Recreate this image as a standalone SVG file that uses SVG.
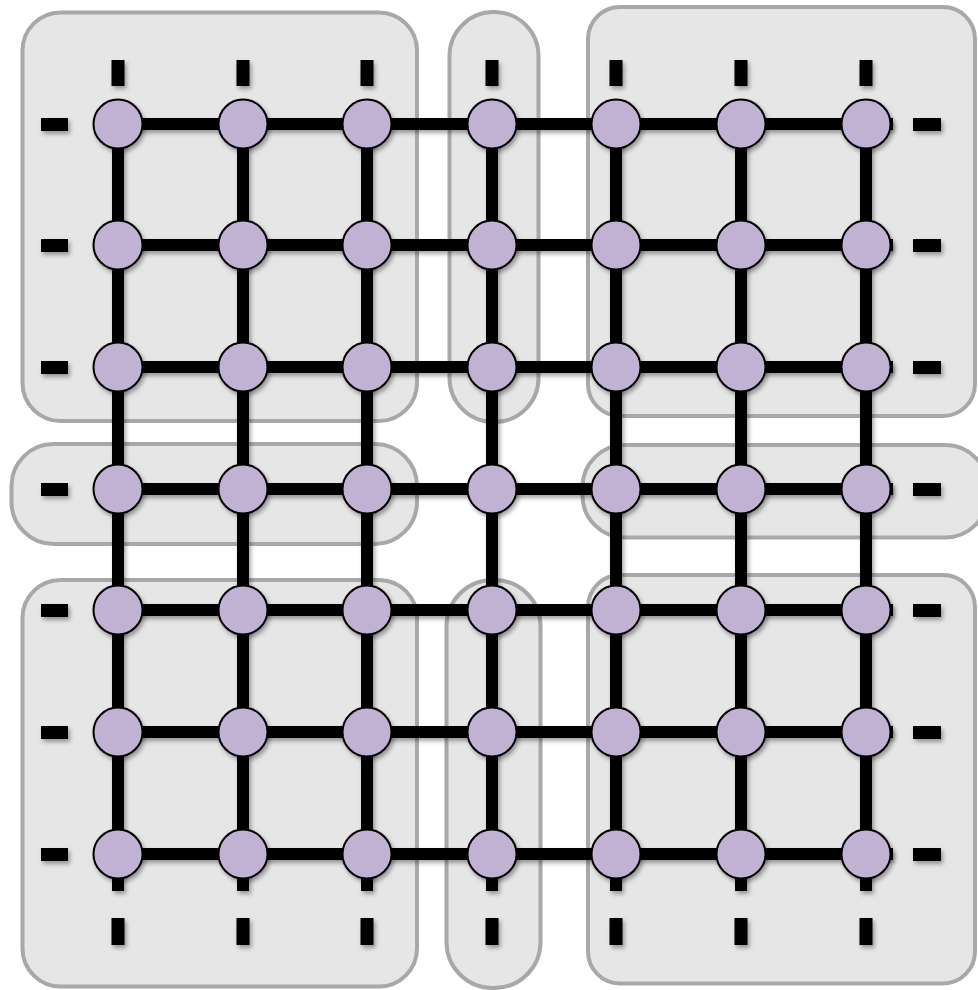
<svg xmlns="http://www.w3.org/2000/svg" width="978" height="990" viewBox="0 0 978 990">
<defs>
<filter id="sh" x="-20%" y="-20%" width="140%" height="140%">
<feDropShadow dx="2" dy="3" stdDeviation="2" flood-color="#000" flood-opacity="0.35"/>
</filter>
<style>
.box{fill:#e6e6e6;stroke:#a8a8a8;stroke-width:4}
.edge{stroke:#000;stroke-width:12;fill:none}
.stub{fill:#000}
.node{fill:#c1b2d4;stroke:#000;stroke-width:2}
</style>
</defs>
<rect width="978" height="990" fill="#fff"/>
<g id="groups">
<rect id="g-tl" class="box" x="22.5" y="12.5" width="394.5" height="408.5" rx="38"/>
<rect id="g-tm" class="box" x="449.5" y="12" width="89" height="410" rx="44"/>
<rect id="g-tr" class="box" x="588" y="7" width="387" height="409" rx="32"/>
<rect id="g-ml" class="box" x="11.5" y="444" width="405.5" height="100" rx="42"/>
<rect id="g-mr" class="box" x="582.5" y="445" width="405" height="92.5" rx="42"/>
<rect id="g-bl" class="box" x="22.5" y="580" width="394.5" height="406.5" rx="38"/>
<rect id="g-bm" class="box" x="446.5" y="580" width="94" height="408" rx="46"/>
<rect id="g-br" class="box" x="588" y="575" width="387" height="408.5" rx="32"/>
</g>
<g id="connectors" filter="url(#sh)">
<line class="edge" x1="118" y1="124" x2="893" y2="124"/>
<line class="edge" x1="118" y1="245" x2="893" y2="245"/>
<line class="edge" x1="118" y1="367" x2="893" y2="367"/>
<line class="edge" x1="118" y1="489" x2="893" y2="489"/>
<line class="edge" x1="118" y1="610" x2="893" y2="610"/>
<line class="edge" x1="118" y1="732" x2="893" y2="732"/>
<line class="edge" x1="118" y1="854" x2="893" y2="854"/>
<line class="edge" x1="118" y1="124" x2="118" y2="891"/>
<line class="edge" x1="243" y1="124" x2="243" y2="891"/>
<line class="edge" x1="367" y1="124" x2="367" y2="891"/>
<line class="edge" x1="492" y1="124" x2="492" y2="891"/>
<line class="edge" x1="616" y1="124" x2="616" y2="891"/>
<line class="edge" x1="741" y1="124" x2="741" y2="891"/>
<line class="edge" x1="866" y1="124" x2="866" y2="891"/>
</g>
<g id="stubs" filter="url(#sh)">
<rect class="stub" x="111.5" y="60" width="13" height="26"/>
<rect class="stub" x="236.5" y="60" width="13" height="26"/>
<rect class="stub" x="360.5" y="60" width="13" height="26"/>
<rect class="stub" x="485.5" y="60" width="13" height="26"/>
<rect class="stub" x="609.5" y="60" width="13" height="26"/>
<rect class="stub" x="734.5" y="60" width="13" height="26"/>
<rect class="stub" x="859.5" y="60" width="13" height="26"/>
<rect class="stub" x="111.5" y="918" width="13" height="27"/>
<rect class="stub" x="236.5" y="918" width="13" height="27"/>
<rect class="stub" x="360.5" y="918" width="13" height="27"/>
<rect class="stub" x="485.5" y="918" width="13" height="27"/>
<rect class="stub" x="609.5" y="918" width="13" height="27"/>
<rect class="stub" x="734.5" y="918" width="13" height="27"/>
<rect class="stub" x="859.5" y="918" width="13" height="27"/>
<rect class="stub" x="41" y="118" width="27" height="13"/>
<rect class="stub" x="41" y="239" width="27" height="13"/>
<rect class="stub" x="41" y="361" width="27" height="13"/>
<rect class="stub" x="41" y="483" width="27" height="13"/>
<rect class="stub" x="41" y="604" width="27" height="13"/>
<rect class="stub" x="41" y="726" width="27" height="13"/>
<rect class="stub" x="41" y="848" width="27" height="13"/>
<rect class="stub" x="913" y="118" width="28" height="13"/>
<rect class="stub" x="913" y="239" width="28" height="13"/>
<rect class="stub" x="913" y="361" width="28" height="13"/>
<rect class="stub" x="913" y="483" width="28" height="13"/>
<rect class="stub" x="913" y="604" width="28" height="13"/>
<rect class="stub" x="913" y="726" width="28" height="13"/>
<rect class="stub" x="913" y="848" width="28" height="13"/>
</g>
<g id="nodes" filter="url(#sh)">
<g id="n1-1"><circle class="node" cx="118" cy="124" r="24.5"/></g>
<g id="n1-2"><circle class="node" cx="243" cy="124" r="24.5"/></g>
<g id="n1-3"><circle class="node" cx="367" cy="124" r="24.5"/></g>
<g id="n1-4"><circle class="node" cx="492" cy="124" r="24.5"/></g>
<g id="n1-5"><circle class="node" cx="616" cy="124" r="24.5"/></g>
<g id="n1-6"><circle class="node" cx="741" cy="124" r="24.5"/></g>
<g id="n1-7"><circle class="node" cx="866" cy="124" r="24.5"/></g>
<g id="n2-1"><circle class="node" cx="118" cy="245" r="24.5"/></g>
<g id="n2-2"><circle class="node" cx="243" cy="245" r="24.5"/></g>
<g id="n2-3"><circle class="node" cx="367" cy="245" r="24.5"/></g>
<g id="n2-4"><circle class="node" cx="492" cy="245" r="24.5"/></g>
<g id="n2-5"><circle class="node" cx="616" cy="245" r="24.5"/></g>
<g id="n2-6"><circle class="node" cx="741" cy="245" r="24.5"/></g>
<g id="n2-7"><circle class="node" cx="866" cy="245" r="24.5"/></g>
<g id="n3-1"><circle class="node" cx="118" cy="367" r="24.5"/></g>
<g id="n3-2"><circle class="node" cx="243" cy="367" r="24.5"/></g>
<g id="n3-3"><circle class="node" cx="367" cy="367" r="24.5"/></g>
<g id="n3-4"><circle class="node" cx="492" cy="367" r="24.5"/></g>
<g id="n3-5"><circle class="node" cx="616" cy="367" r="24.5"/></g>
<g id="n3-6"><circle class="node" cx="741" cy="367" r="24.5"/></g>
<g id="n3-7"><circle class="node" cx="866" cy="367" r="24.5"/></g>
<g id="n4-1"><circle class="node" cx="118" cy="489" r="24.5"/></g>
<g id="n4-2"><circle class="node" cx="243" cy="489" r="24.5"/></g>
<g id="n4-3"><circle class="node" cx="367" cy="489" r="24.5"/></g>
<g id="n4-4"><circle class="node" cx="492" cy="489" r="24.5"/></g>
<g id="n4-5"><circle class="node" cx="616" cy="489" r="24.5"/></g>
<g id="n4-6"><circle class="node" cx="741" cy="489" r="24.5"/></g>
<g id="n4-7"><circle class="node" cx="866" cy="489" r="24.5"/></g>
<g id="n5-1"><circle class="node" cx="118" cy="610" r="24.5"/></g>
<g id="n5-2"><circle class="node" cx="243" cy="610" r="24.5"/></g>
<g id="n5-3"><circle class="node" cx="367" cy="610" r="24.5"/></g>
<g id="n5-4"><circle class="node" cx="492" cy="610" r="24.5"/></g>
<g id="n5-5"><circle class="node" cx="616" cy="610" r="24.5"/></g>
<g id="n5-6"><circle class="node" cx="741" cy="610" r="24.5"/></g>
<g id="n5-7"><circle class="node" cx="866" cy="610" r="24.5"/></g>
<g id="n6-1"><circle class="node" cx="118" cy="732" r="24.5"/></g>
<g id="n6-2"><circle class="node" cx="243" cy="732" r="24.5"/></g>
<g id="n6-3"><circle class="node" cx="367" cy="732" r="24.5"/></g>
<g id="n6-4"><circle class="node" cx="492" cy="732" r="24.5"/></g>
<g id="n6-5"><circle class="node" cx="616" cy="732" r="24.5"/></g>
<g id="n6-6"><circle class="node" cx="741" cy="732" r="24.5"/></g>
<g id="n6-7"><circle class="node" cx="866" cy="732" r="24.5"/></g>
<g id="n7-1"><circle class="node" cx="118" cy="854" r="24.5"/></g>
<g id="n7-2"><circle class="node" cx="243" cy="854" r="24.5"/></g>
<g id="n7-3"><circle class="node" cx="367" cy="854" r="24.5"/></g>
<g id="n7-4"><circle class="node" cx="492" cy="854" r="24.5"/></g>
<g id="n7-5"><circle class="node" cx="616" cy="854" r="24.5"/></g>
<g id="n7-6"><circle class="node" cx="741" cy="854" r="24.5"/></g>
<g id="n7-7"><circle class="node" cx="866" cy="854" r="24.5"/></g>
</g>
</svg>
